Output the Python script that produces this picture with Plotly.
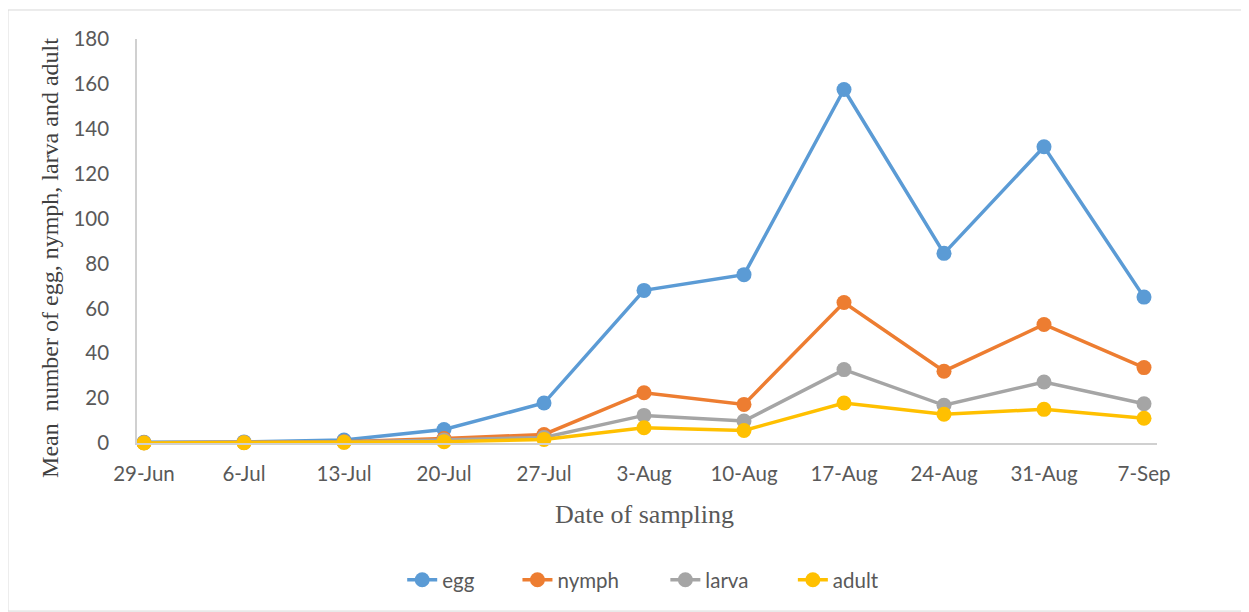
import plotly.graph_objects as go

dates = ["29-Jun", "6-Jul", "13-Jul", "20-Jul", "27-Jul", "3-Aug", "10-Aug",
         "17-Aug", "24-Aug", "31-Aug", "7-Sep"]
egg = [0.3, 0.5, 1.3, 6.0, 17.8, 68.0, 75.0, 157.5, 84.5, 132.0, 65.0]
nymph = [0.1, 0.2, 0.6, 2.0, 3.8, 22.4, 17.2, 62.6, 32.0, 52.8, 33.6]
larva = [0.1, 0.2, 0.5, 1.3, 2.5, 12.3, 9.8, 32.7, 16.8, 27.2, 17.5]
adult = [0.0, 0.1, 0.3, 0.6, 1.6, 6.8, 5.6, 17.8, 12.8, 15.0, 11.0]
y_ticks = [0, 20, 40, 60, 80, 100, 120, 140, 160, 180]

series = [("egg", egg, "#5B9BD5"), ("nymph", nymph, "#ED7D31"),
          ("larva", larva, "#A5A5A5"), ("adult", adult, "#FFC000")]
legend_ids = ["legend", "legend2", "legend3", "legend4"]
legend_x = [0.260, 0.373, 0.518, 0.643]

x = list(range(len(dates)))
fig = go.Figure()
for (name, vals, col), lid in zip(series, legend_ids):
    fig.add_trace(go.Scatter(
        x=x, y=vals, name=name, mode="lines+markers",
        line=dict(color=col, width=3.5),
        marker=dict(color=col, size=15),
        cliponaxis=False, legend=lid,
    ))

tick_font = dict(family="Lato, Liberation Sans, sans-serif", size=20.5, color="#595959")
serif = "Liberation Serif, Times New Roman, serif"

layout_legends = {}
for lid, lx in zip(legend_ids, legend_x):
    layout_legends[lid] = dict(orientation="h", x=lx, xanchor="left", y=-0.339,
                               yanchor="middle", font=tick_font,
                               bgcolor="rgba(0,0,0,0)")

fig.update_layout(
    width=1249, height=612,
    margin=dict(l=129, r=100, t=31, b=177),
    plot_bgcolor="white", paper_bgcolor="white",
    showlegend=True,
    xaxis=dict(range=[-0.07, 10.13], tickvals=x, ticktext=dates, showgrid=False,
               zeroline=False, showline=True, linecolor="#D0D0D0", linewidth=1.5,
               tickfont=tick_font, ticks="", ticklabelstandoff=12),
    yaxis=dict(range=[0, 180], tickvals=y_ticks, showgrid=False, zeroline=False,
               showline=True, linecolor="#D0D0D0", linewidth=1.5,
               tickfont=tick_font, ticks="", ticklabelstandoff=22),
    annotations=[
        dict(text="Mean  number of egg, nymph, larva and adult", textangle=-90,
             xref="paper", yref="paper", x=-0.0853, y=0.458, showarrow=False,
             xanchor="center", yanchor="middle",
             font=dict(family=serif, size=24, color="#404040")),
        dict(text="Date of sampling", xref="paper", yref="paper", x=0.498, y=-0.176,
             showarrow=False, xanchor="center", yanchor="middle",
             font=dict(family=serif, size=26, color="#595959")),
    ],
    shapes=[dict(type="rect", xref="paper", yref="paper", x0=-0.1265, x1=1.089,
                 y0=-0.416, y1=1.0718, line=dict(color="#D9D9D9", width=1),
                 fillcolor="rgba(0,0,0,0)", layer="below")],
    **layout_legends,
)

fig.write_html("out.html")
